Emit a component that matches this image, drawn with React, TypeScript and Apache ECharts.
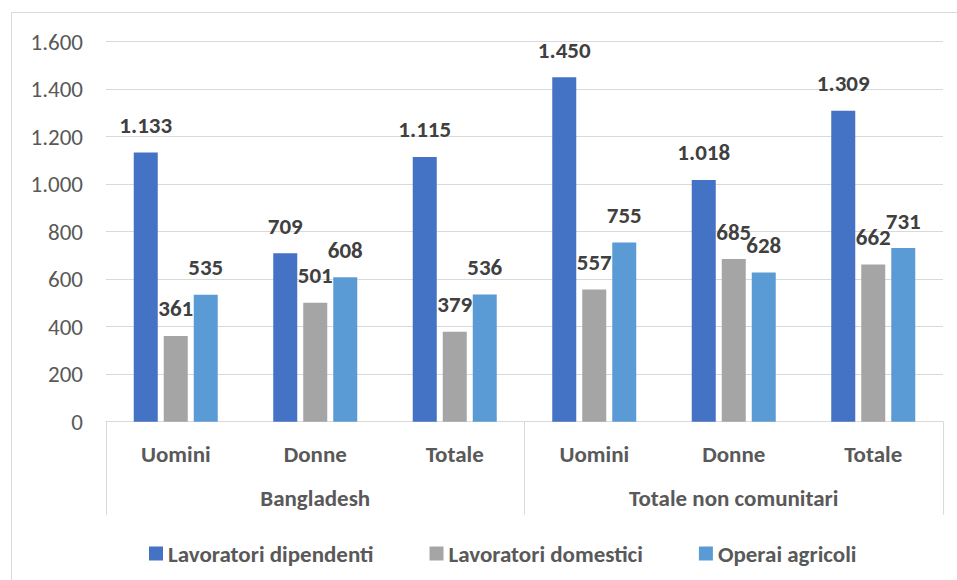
import React, { useEffect, useRef } from "react";
import * as echarts from "echarts";

const subCategories = ["Uomini", "Donne", "Totale", "Uomini", "Donne", "Totale"];
const groups = ["Bangladesh", "Totale non comunitari"];
const seriesNames = ["Lavoratori dipendenti", "Lavoratori domestici", "Operai agricoli"];
const dipendenti = [1133, 709, 1115, 1450, 1018, 1309];
const domestici = [361, 501, 379, 557, 685, 662];
const agricoli = [535, 608, 536, 755, 628, 731];
const colors = ["#4472C4", "#A5A5A5", "#5B9BD5"];

const FONT = 'Carlito, Calibri, Lato, "Liberation Sans", sans-serif';
const FS = 23;

function fmt(v: number): string {
  return String(Math.round(v)).replace(/\B(?=(\d{3})+(?!\d))/g, ".");
}

export default function App() {
  const ref = useRef<HTMLDivElement>(null);
  useEffect(() => {
    if (!ref.current) return;
    const chart = echarts.init(ref.current, null, { renderer: "svg" });
    const values = [dipendenti, domestici, agricoli];
    chart.setOption({
      animation: false,
      backgroundColor: "#ffffff",
      textStyle: { fontFamily: FONT },
      grid: { left: 106, right: 14, top: 41.7, bottom: 158.3, containLabel: false },
      graphic: [
        {
          type: "rect",
          shape: { x: 11.5, y: 12.5, width: 1000, height: 1000 },
          style: { fill: "none", stroke: "#D9D9D9", lineWidth: 1 },
          silent: true,
          z: -10,
        },
      ],
      legend: {
        data: seriesNames,
        left: 144,
        top: 537,
        icon: "rect",
        itemWidth: 14,
        itemHeight: 14,
        itemGap: 56,
        textStyle: { fontFamily: FONT, fontSize: FS, color: "#595959", fontWeight: "bold" },
      },
      xAxis: [
        {
          type: "category",
          data: subCategories,
          position: "bottom",
          axisLine: { show: true, lineStyle: { color: "#D9D9D9", width: 1 } },
          axisTick: { show: false },
          axisLabel: {
            interval: 0,
            margin: 21,
            fontFamily: FONT,
            fontSize: FS,
            fontWeight: "bold",
            color: "#595959",
          },
        },
        {
          type: "category",
          data: groups,
          position: "bottom",
          axisLine: { show: false },
          axisTick: { show: true, length: 93, interval: 0, lineStyle: { color: "#D9D9D9", width: 1 } },
          axisLabel: {
            interval: 0,
            margin: 65,
            fontFamily: FONT,
            fontSize: FS,
            fontWeight: "bold",
            color: "#595959",
          },
          splitLine: { show: false },
        },
      ],
      yAxis: {
        type: "value",
        min: 0,
        max: 1600,
        interval: 200,
        axisLine: { show: false },
        axisTick: { show: false },
        axisLabel: {
          margin: 23,
          fontFamily: FONT,
          fontSize: FS,
          color: "#595959",
          formatter: (v: number) => fmt(v),
        },
        splitLine: { lineStyle: { color: "#D9D9D9", width: 1 } },
      },
      series: seriesNames.map((name, i) => ({
        name,
        type: "bar",
        xAxisIndex: 0,
        data: values[i],
        barWidth: 24,
        barGap: "25%",
        itemStyle: { color: colors[i] },
        label: {
          show: true,
          position: "top",
          distance: 16,
          fontFamily: FONT,
          fontSize: FS,
          fontWeight: "bold",
          color: "#404040",
          formatter: (p: any) => fmt(p.value),
        },
      })),
    });
    return () => chart.dispose();
  }, []);
  return (
    <div
      ref={ref}
      style={{ position: "fixed", left: 0, top: 0, width: 957, height: 580 }}
    />
  );
}
